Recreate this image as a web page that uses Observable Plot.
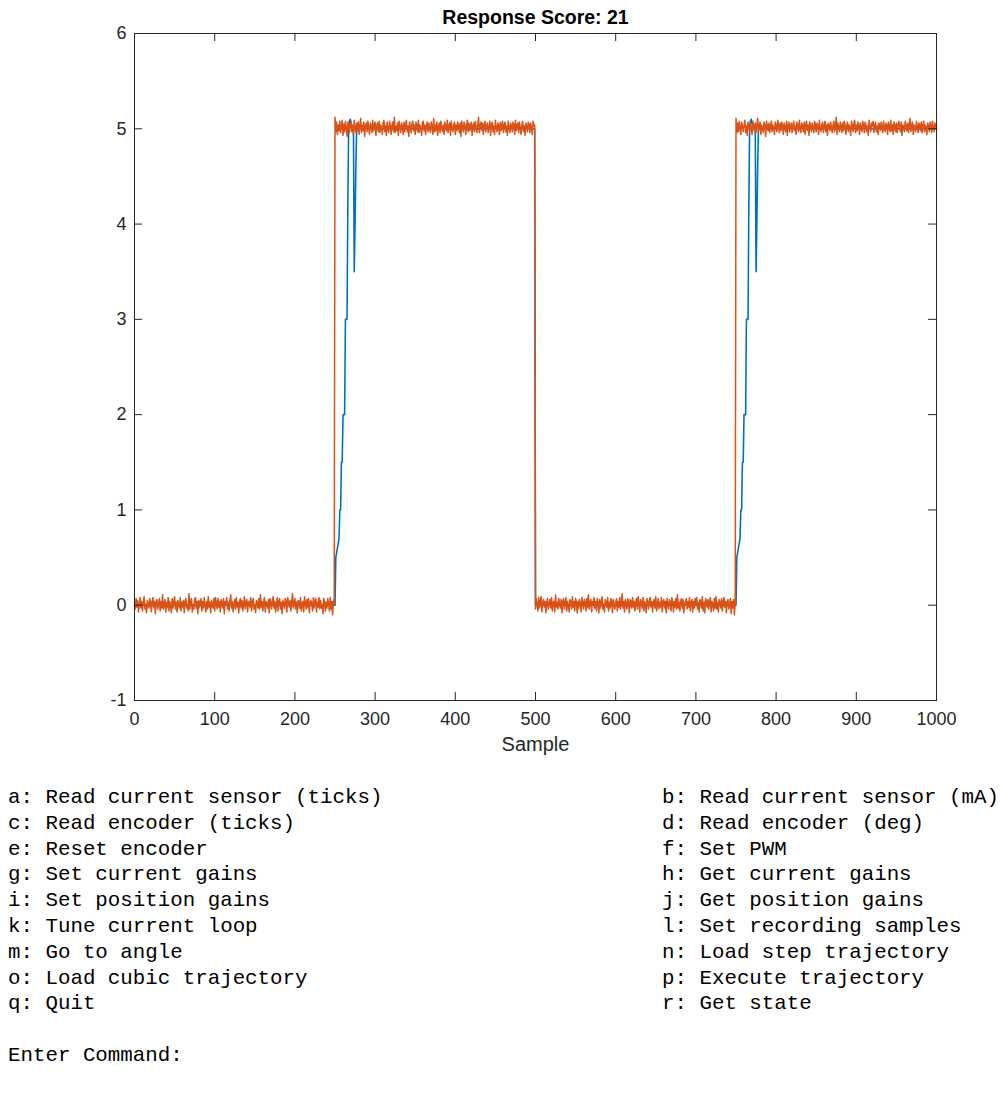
<!DOCTYPE html>
<html>
<head>
<meta charset="utf-8">
<script src="https://cdn.jsdelivr.net/npm/d3@7"></script>
<script src="https://cdn.jsdelivr.net/npm/@observablehq/plot@0.6"></script>
<style>
  html, body { margin: 0; padding: 0; background: #ffffff; }
  #chart { width: 1000px; height: 770px; }
  #menu { position: relative; width: 1000px; margin-top: 15px; font-family: "Liberation Mono", "DejaVu Sans Mono", monospace; font-size: 20.8px; color: #000; }
  .row { height: 25.8px; line-height: 25.8px; position: relative; white-space: pre; }
  .row span { position: absolute; top: 0; }
</style>
</head>
<body>
<div id="chart"></div>
<div id="menu"></div>
<script>
const titleText = "Response Score: 21";
const xLabel = "Sample";
const xTicks = [0, 100, 200, 300, 400, 500, 600, 700, 800, 900, 1000];
const yTicks = [-1, 0, 1, 2, 3, 4, 5, 6];

// Blue series: key points (sample, value)
const blueSamples = [0, 250, 251, 255, 256, 257, 258, 259, 260, 262, 263, 265, 266, 267, 268, 269, 270, 271, 273, 274, 275, 276, 277, 499, 500,
  750, 751, 755, 756, 757, 758, 759, 760, 762, 763, 765, 766, 767, 768, 769, 770, 771, 774, 775, 776, 777, 778, 1000];
const blueValues = [0, 0, 0.5, 0.7, 1.0, 1.0, 1.5, 1.5, 2.0, 2.0, 3.0, 3.0, 4.2, 5.0, 5.08, 5.1, 5.06, 5.0, 5.0, 3.5, 4.0, 4.6, 5.0, 5.0, 0,
  0, 0.5, 0.7, 1.0, 1.0, 1.5, 1.5, 2.0, 2.0, 3.0, 3.0, 4.2, 5.0, 5.08, 5.1, 5.06, 5.0, 5.0, 3.5, 4.0, 4.6, 5.0, 5.0];

// Orange series: one value per sample, in four segments
const orangeLow1 = [
0.03,-0.04,0.07,-0.02,0.05,-0.07,0.01,0.08,-0.03,0.04,
-0.06,0.03,0.09,-0.04,0.01,-0.08,0.05,0.00,-0.03,0.07,
0.04,-0.07,0.03,0.08,-0.02,0.04,-0.09,0.03,0.06,-0.04,
0.01,0.07,-0.06,0.04,-0.03,0.11,-0.04,0.01,0.06,-0.07,
0.03,-0.02,0.08,-0.06,0.04,0.00,-0.08,0.07,-0.03,0.04,
0.09,-0.04,0.03,-0.07,0.05,0.01,-0.03,0.08,-0.06,0.03,
-0.02,0.05,-0.08,0.04,0.07,-0.03,0.01,-0.06,0.12,-0.04,
0.03,0.07,-0.07,0.01,-0.04,0.06,0.08,-0.03,0.04,-0.09,
0.05,-0.02,0.03,0.07,-0.06,0.04,-0.03,0.08,0.00,-0.07,
0.04,-0.04,0.09,-0.02,0.03,-0.08,0.05,0.01,-0.03,0.07,
-0.06,0.08,0.03,-0.04,0.07,-0.02,0.04,-0.07,0.06,0.03,
-0.03,0.07,-0.09,0.04,0.01,0.08,-0.04,0.03,-0.06,0.05,
0.11,-0.03,0.04,-0.07,0.01,0.06,-0.04,0.08,-0.02,0.03,
-0.08,0.04,0.07,-0.03,0.05,-0.06,0.01,0.09,-0.04,0.03,
0.06,-0.07,0.03,0.04,-0.02,0.08,-0.06,0.03,0.07,-0.04,
0.01,-0.08,0.05,0.03,-0.03,0.07,-0.04,0.11,-0.02,0.04,
-0.06,0.03,0.08,-0.07,0.04,0.01,-0.03,0.06,-0.08,0.07,
0.03,-0.04,0.05,0.09,-0.03,0.04,-0.07,0.01,0.08,-0.06,
0.04,0.07,-0.04,0.03,-0.09,0.05,0.01,-0.03,0.07,0.04,
-0.07,0.08,0.03,-0.02,0.05,-0.06,0.04,0.12,-0.03,0.01,
0.07,-0.04,0.03,-0.08,0.05,0.04,-0.03,0.08,-0.06,0.01,
0.04,-0.07,0.09,0.03,-0.04,0.06,-0.02,0.07,-0.08,0.03,
0.05,0.01,-0.06,0.08,-0.03,0.04,0.07,-0.07,0.03,-0.02,
0.08,-0.04,0.05,-0.03,0.01,-0.09,0.07,0.04,-0.06,0.03,
-0.03,0.07,0.01,-0.06,0.08,-0.04,0.04,-0.10,0.05,0.01];
const orangeHigh1 = [
5.12,4.97,5.07,4.94,5.04,4.98,5.08,4.96,5.03,5.09,
4.93,5.05,4.97,5.08,5.01,4.92,5.07,5.04,4.96,5.03,
5.08,4.97,5.04,4.93,5.09,5.01,4.96,5.06,4.98,5.07,
4.94,5.03,5.11,4.96,5.04,4.98,5.07,4.92,5.03,5.06,
4.97,5.08,5.01,4.94,5.06,5.03,4.96,5.09,4.98,5.04,
5.07,4.93,5.03,5.06,4.97,5.08,4.96,5.04,5.01,4.94,
5.06,5.09,4.97,5.03,4.93,5.07,5.00,4.96,5.08,5.03,
4.94,5.04,5.07,4.97,5.12,4.96,5.03,4.98,5.06,4.93,
5.08,5.01,4.96,5.06,5.03,4.94,5.07,4.97,5.04,5.09,
4.97,5.03,4.92,5.07,5.01,4.96,5.06,5.08,4.98,5.04,
4.94,5.07,5.03,4.97,5.09,4.96,5.04,5.01,4.93,5.06,
5.08,4.98,5.04,4.94,5.03,5.07,4.97,5.06,5.00,4.96,
5.07,5.03,4.94,5.11,4.97,5.04,4.98,5.07,4.93,5.03,
5.06,4.96,5.08,5.01,4.97,5.04,4.94,5.07,5.03,4.98,
5.09,4.96,5.03,5.06,4.93,5.08,5.01,4.97,5.04,5.07,
4.94,5.04,4.98,5.07,5.03,4.96,5.06,4.92,5.08,5.01,
4.97,5.07,5.04,4.94,5.03,5.09,4.97,5.06,4.98,5.04,
5.07,4.93,5.03,5.06,4.97,5.08,5.01,4.96,5.04,5.12,
4.96,5.03,5.07,4.98,5.06,4.94,5.04,5.08,4.97,5.03,
5.06,4.96,5.01,5.08,4.93,5.04,5.07,4.97,5.03,4.94,
5.09,5.01,4.97,5.06,5.03,4.94,5.07,4.98,5.04,5.08,
4.96,5.04,5.07,4.97,5.03,4.93,5.08,5.01,4.96,5.06,
5.03,4.97,5.07,5.04,4.94,5.09,4.98,5.03,5.06,4.96,
5.07,5.01,4.94,5.04,5.08,4.97,5.03,4.93,5.06,5.03,
4.97,5.07,5.04,4.96,5.06,5.01,4.94,5.08,5.03,5.04];
const orangeLow2 = [
-0.04,0.07,0.01,-0.06,0.08,-0.03,0.04,0.09,-0.07,0.03,
0.06,-0.02,0.04,-0.08,0.03,0.07,-0.04,0.01,0.06,-0.03,
0.08,-0.06,0.03,0.04,-0.07,0.11,-0.02,0.03,-0.04,0.07,
0.01,-0.03,0.06,-0.08,0.04,0.07,-0.04,0.03,0.08,-0.06,
0.04,0.00,-0.07,0.06,0.03,-0.04,0.09,-0.02,0.04,-0.06,
0.07,0.03,-0.08,0.04,-0.03,0.06,0.01,-0.07,0.08,0.03,
-0.04,0.06,0.03,-0.06,0.07,-0.02,0.11,-0.04,0.03,0.06,
-0.07,0.04,0.01,0.08,-0.03,0.04,-0.06,0.07,0.03,-0.08,
0.06,-0.03,0.04,0.09,-0.04,0.01,-0.07,0.06,0.03,-0.02,
0.08,-0.06,0.03,-0.03,0.07,0.04,-0.08,0.06,0.01,-0.04,
0.03,0.07,-0.06,0.04,-0.02,0.08,-0.04,0.03,0.12,-0.03,
0.04,-0.07,0.06,0.01,-0.04,0.07,0.03,-0.08,0.06,0.04,
-0.03,0.08,-0.02,0.04,-0.06,0.03,0.07,-0.04,0.09,0.01,
-0.07,0.06,0.03,-0.03,0.08,-0.06,0.04,0.01,-0.08,0.07,
0.03,-0.04,0.06,0.08,-0.02,0.04,-0.07,0.03,0.06,-0.03,
0.09,-0.06,0.01,0.07,-0.04,0.03,-0.02,0.08,-0.07,0.04,
0.06,-0.03,0.04,-0.08,0.07,0.01,-0.04,0.06,0.03,-0.06,
0.08,0.03,-0.07,0.04,-0.02,0.07,-0.04,0.11,-0.03,0.03,
-0.06,0.04,0.07,-0.03,0.06,-0.08,0.03,0.01,0.07,-0.04,
0.04,-0.02,0.08,-0.06,0.03,0.06,-0.07,0.04,-0.03,0.07,
0.01,0.08,-0.04,0.03,-0.07,0.06,0.04,-0.03,0.09,-0.06,
0.03,-0.08,0.07,0.04,-0.02,0.06,-0.04,0.03,0.08,-0.07,
0.04,0.01,-0.06,0.07,-0.03,0.09,-0.04,0.03,-0.07,0.06,
0.03,-0.03,0.07,-0.06,0.04,0.08,-0.02,0.04,-0.08,0.03,
0.06,-0.04,0.01,0.07,-0.09,0.04,-0.03,0.06,-0.10,0.03];
const orangeHigh2 = [
5.11,4.96,5.06,4.97,5.08,5.01,4.94,5.07,5.03,4.97,
5.04,5.09,4.96,5.03,4.93,5.07,5.04,4.97,5.06,5.01,
4.94,5.08,5.03,4.98,5.06,4.96,5.04,5.11,4.97,5.03,
5.07,4.94,5.04,5.01,4.96,5.07,5.03,4.92,5.08,5.04,
4.98,5.06,4.96,5.03,5.08,4.97,5.04,5.01,4.94,5.07,
5.03,4.97,5.09,5.04,4.96,5.06,4.98,5.07,5.03,4.94,
5.06,5.01,4.97,5.08,4.93,5.04,5.07,4.97,5.03,5.06,
4.96,5.04,5.08,4.98,5.03,4.94,5.07,5.04,4.97,5.09,
5.01,4.96,5.06,5.03,4.97,5.07,4.94,5.04,5.08,4.98,
5.04,4.93,5.07,5.03,4.97,5.06,5.01,4.96,5.08,5.04,
4.97,5.06,5.03,4.94,5.09,5.01,4.97,5.04,5.07,4.96,
5.03,5.08,4.97,5.04,4.93,5.06,5.03,4.98,5.07,5.01,
4.96,5.04,5.08,4.97,5.03,5.12,4.94,5.06,5.01,4.97,
5.07,5.03,4.96,5.06,4.98,5.08,5.04,4.94,5.03,5.07,
4.97,5.04,5.01,4.93,5.08,5.03,4.97,5.06,5.09,4.96,
5.04,4.98,5.07,5.03,4.94,5.06,5.01,4.97,5.08,5.03,
4.96,5.07,5.04,4.97,5.03,4.93,5.09,5.01,4.97,5.06,
5.03,5.08,4.96,5.04,5.07,4.97,5.03,4.94,5.06,5.04,
4.98,5.07,5.03,4.96,5.08,5.01,4.97,5.06,5.04,4.94,
5.07,5.03,4.97,5.09,4.98,5.04,4.94,5.07,5.03,4.97,
5.06,4.96,5.04,5.08,5.01,4.97,5.07,4.93,5.04,5.03,
4.97,5.08,5.03,4.98,5.06,4.96,5.04,5.11,4.97,5.03,
5.07,4.94,5.04,5.01,4.97,5.08,5.03,4.96,5.06,5.04,
4.98,5.07,4.96,5.03,5.08,4.97,5.04,5.01,4.94,5.06,
5.03,4.97,5.07,5.04,4.96,5.08,5.01,4.97,5.06,5.03,
5.00];

const menuLeft = [
  "a: Read current sensor (ticks)",
  "c: Read encoder (ticks)",
  "e: Reset encoder",
  "g: Set current gains",
  "i: Set position gains",
  "k: Tune current loop",
  "m: Go to angle",
  "o: Load cubic trajectory",
  "q: Quit"
];
const menuRight = [
  "b: Read current sensor (mA)",
  "d: Read encoder (deg)",
  "f: Set PWM",
  "h: Get current gains",
  "j: Get position gains",
  "l: Set recording samples",
  "n: Load step trajectory",
  "p: Execute trajectory",
  "r: Get state"
];
const promptText = "Enter Command:";

// Build tables
const blueData = blueSamples.map((s, i) => ({s, v: blueValues[i]}));
const orangeAll = orangeLow1.concat(orangeHigh1, orangeLow2, orangeHigh2);
const orangeData = orangeAll.map((v, i) => ({s: i, v}));

const W = 1000, H = 770;
const mL = 134, mR = 64, mT = 33, mB = 70;
const frameW = W - mL - mR, frameH = H - mT - mB;
const axisColor = "#262626";
const fontSans = "'Liberation Sans', Arial, Helvetica, sans-serif";

const chart = Plot.plot({
  width: W,
  height: H,
  marginLeft: mL, marginRight: mR, marginTop: mT, marginBottom: mB,
  x: {domain: [0, 1000]},
  y: {domain: [-1, 6]},
  style: {fontFamily: fontSans, background: "#ffffff", color: axisColor},
  marks: [
    Plot.line(blueData, {x: "s", y: "v", stroke: "#0072BD", strokeWidth: 1.6}),
    Plot.line(orangeData, {x: "s", y: "v", stroke: "#D95319", strokeWidth: 1.5}),
    Plot.frame({stroke: axisColor, strokeWidth: 1}),
    Plot.tickX(xTicks, {x: d => d, insetTop: frameH - 8, stroke: axisColor}),
    Plot.tickX(xTicks, {x: d => d, insetBottom: frameH - 8, stroke: axisColor}),
    Plot.tickY(yTicks, {y: d => d, insetRight: frameW - 8, stroke: axisColor}),
    Plot.tickY(yTicks, {y: d => d, insetLeft: frameW - 8, stroke: axisColor}),
    Plot.axisX(xTicks, {tickSize: 0, tickPadding: 12, fontSize: 18, label: null, tickFormat: d => String(d), fill: axisColor}),
    Plot.axisY(yTicks, {tickSize: 0, tickPadding: 8, fontSize: 18, label: null, tickFormat: d => String(d), fill: axisColor}),
    Plot.text([xLabel], {frameAnchor: "bottom", lineAnchor: "middle", dy: 44, fontSize: 20, fill: axisColor}),
    Plot.text([titleText], {frameAnchor: "top", lineAnchor: "middle", dy: -16, fontSize: 19.5, fontWeight: "bold", fill: "#000000"})
  ]
});
document.getElementById("chart").appendChild(chart);

const menu = document.getElementById("menu");
menuLeft.forEach((txt, i) => {
  const row = document.createElement("div");
  row.className = "row";
  const a = document.createElement("span");
  a.style.left = "8px";
  a.textContent = txt;
  const b = document.createElement("span");
  b.style.left = "662px";
  b.textContent = menuRight[i];
  row.appendChild(a);
  row.appendChild(b);
  menu.appendChild(row);
});
const blank = document.createElement("div");
blank.className = "row";
menu.appendChild(blank);
const prompt = document.createElement("div");
prompt.className = "row";
const ps = document.createElement("span");
ps.style.left = "8px";
ps.textContent = promptText;
prompt.appendChild(ps);
menu.appendChild(prompt);
</script>
</body>
</html>
